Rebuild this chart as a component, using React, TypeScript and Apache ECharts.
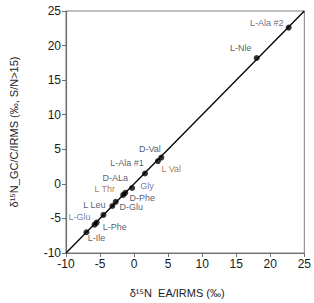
import React, { useEffect, useRef } from "react";
import * as echarts from "echarts";

// Amino acid δ15N values: EA/IRMS (x) versus GC/C/IRMS (y)
const names = [
  "L-Ala #2", "L-Nle", "D-Val", "L Val", "L-Ala #1", "Gly", "D-Phe",
  "D-ALa", "L Thr", "D-Glu", "L Leu", "L-Phe", "L-Glu", "L-Ile",
];
const eaValues = [22.7, 18.0, 3.5, 4.0, 1.6, -0.3, -1.3, -1.6, -2.7, -3.2, -4.5, -5.5, -5.8, -7.0];
const gcValues = [22.6, 18.2, 3.3, 3.8, 1.5, -0.6, -1.3, -1.6, -2.6, -3.2, -4.5, -5.6, -5.9, -7.0];

// label offsets (px from the marker centre) and colours
const labelOffsets: [number, number][] = [
  [-22, -5], [-16, -10], [-8, -12], [10, 11], [-18, -10], [15, -2], [17, 5],
  [-8, -17], [-11, -13], [19, 1], [-9, -10], [18, 4], [-15, -8], [10, 6],
];
const labelColors = [
  "#3a4a6a", "#2a3048", "#2a3048", "#9a5a22", "#2a3048", "#4a5f86", "#2a3048",
  "#2a3048", "#9a5a22", "#2a3048", "#2a3048", "#2a3048", "#3f63a0", "#2a3048",
];

const axisMin = -10;
const axisMax = 25;
const axisStep = 5;

const FONT = "'Liberation Sans', Arial, sans-serif";

export default function App() {
  const ref = useRef<HTMLDivElement>(null);

  useEffect(() => {
    if (!ref.current) return;
    const chart = echarts.init(ref.current, undefined, { renderer: "svg" });

    const points = names.map((n, i) => ({
      value: [eaValues[i], gcValues[i]],
      label: {
        show: true,
        formatter: n,
        position: "inside" as const,
        align: "center" as const,
        verticalAlign: "middle" as const,
        offset: labelOffsets[i],
        color: labelColors[i],
        fontSize: 9,
        fontFamily: FONT,
      },
    }));

    const axisCommon = {
      type: "value" as const,
      min: axisMin,
      max: axisMax,
      interval: axisStep,
      nameLocation: "middle" as const,
      axisLine: { show: true, onZero: false, lineStyle: { color: "#707070", width: 1.2 } },
      axisTick: { show: true, inside: false, length: 4, lineStyle: { color: "#707070" } },
      axisLabel: { color: "#1a1a1a", fontSize: 12, fontFamily: FONT, margin: 5 },
      splitLine: { show: false },
      nameTextStyle: { color: "#222", fontSize: 11, fontFamily: FONT },
    };

    chart.setOption({
      animation: false,
      backgroundColor: "#fff",
      grid: {
        left: 61,
        right: 5,
        top: 11,
        bottom: 45,
        show: true,
        borderColor: "#808080",
        borderWidth: 1,
      },
      xAxis: {
        ...axisCommon,
        name: "δ¹⁵N  EA/IRMS (‰)",
        nameGap: 34,
        nameTextStyle: { ...axisCommon.nameTextStyle, padding: [0, 16, 0, 0] },
      },
      yAxis: {
        ...axisCommon,
        name: "δ¹⁵N_GC/C/IRMS (‰, S/N>15)",
        nameGap: 47,
      },
      series: [
        {
          type: "line",
          data: [
            [axisMin, axisMin],
            [axisMax, axisMax],
          ],
          symbol: "none",
          lineStyle: { color: "#000", width: 1.3 },
          silent: true,
          z: 1,
        },
        {
          type: "scatter",
          data: points,
          symbol: "circle",
          symbolSize: 6,
          itemStyle: { color: "#000" },
          z: 2,
        },
      ],
    });

    return () => chart.dispose();
  }, []);

  return (
    <div
      ref={ref}
      style={{ position: "absolute", left: 0, top: 0, width: 314, height: 303 }}
    />
  );
}
